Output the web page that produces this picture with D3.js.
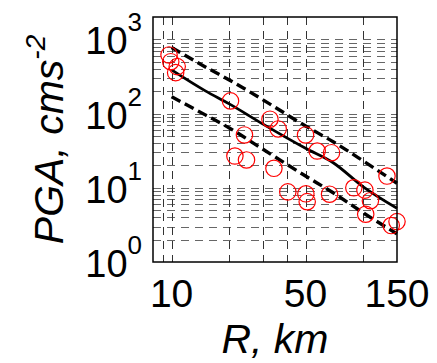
<!DOCTYPE html>
<html>
<head>
<meta charset="utf-8">
<script src="https://cdn.jsdelivr.net/npm/d3@7"></script>
<style>
  body { margin: 0; background: #fff; }
  text { font-family: "Liberation Sans", Arial, sans-serif; fill: #000; }
</style>
</head>
<body>
<svg id="drawing_region"></svg>
<script>
// observed records: distance (km) and PGA (cm/s^2)
const obs_R   = [9.7, 9.9, 10.7, 10.5, 20.3, 32.6, 36.0, 24.0, 50.0, 57.5, 68.3, 21.4, 24.6, 34.2, 133, 40.4, 50.2, 51.0, 66.7, 89.3, 102, 109, 103, 140, 150];
const obs_PGA = [616, 500, 429, 356, 148, 84, 62, 51.5, 51.5, 31.3, 29.7, 26.8, 23.7, 18.3, 14.4, 8.8, 8.3, 6.5, 8.2, 10.0, 9.3, 6.7, 4.4, 3.1, 3.5];

// prediction curves
const curve_R     = [10, 15, 20, 30, 50, 70, 100, 150];
const median_PGA  = [387, 202, 135, 72, 34, 21.6, 10.3, 5.3];
const upper_PGA   = [778, 425, 284, 153, 68, 41.4, 23, 11.5];
const lower_PGA   = [169, 96, 64, 33, 14.4, 8.5, 4.6, 2.4];

// axes
const x_grid   = [9, 10, 20, 30, 40, 50, 100];
const x_labels = [10, 50, 150];
const y_major  = [1, 10, 100, 1000];

var config = {
    parent: '#drawing_region',
    width: 437,
    height: 363,
    margin: { top: 17, right: 40, bottom: 101, left: 153 }
};

class LogPlot {
    constructor(config) {
        this.config = config;
        this.init();
    }

    init() {
        let self = this;
        self.svg = d3.select(self.config.parent)
            .attr('width', self.config.width)
            .attr('height', self.config.height);

        self.inner_width = self.config.width - self.config.margin.left - self.config.margin.right;
        self.inner_height = self.config.height - self.config.margin.top - self.config.margin.bottom;

        self.chart = self.svg.append('g')
            .attr('transform', `translate(${self.config.margin.left},${self.config.margin.top})`);

        self.xscale = d3.scaleLog().domain([8, 150]).range([0, self.inner_width]);
        self.yscale = d3.scaleLog().domain([1, 2000]).range([self.inner_height, 0]);
    }

    render() {
        let self = this;
        const W = self.inner_width, H = self.inner_height;

        // horizontal grid at every log tick 1..1000
        const y_grid = [];
        y_major.forEach(d => {
            for (let k = 1; k <= 9; k++) {
                const v = d * k;
                if (v > 1 && v <= 1000) y_grid.push(v);
            }
        });
        self.chart.append('g').selectAll('line').data(y_grid).join('line')
            .attr('x1', 0).attr('x2', W)
            .attr('y1', d => Math.round(self.yscale(d)) + 0.5)
            .attr('y2', d => Math.round(self.yscale(d)) + 0.5)
            .attr('stroke', '#666').attr('stroke-width', 1)
            .attr('stroke-dasharray', '8,6');

        self.chart.append('g').selectAll('line').data(x_grid).join('line')
            .attr('x1', d => Math.round(self.xscale(d)) + 0.5)
            .attr('x2', d => Math.round(self.xscale(d)) + 0.5)
            .attr('y1', 0).attr('y2', H)
            .attr('stroke', '#333').attr('stroke-width', 1)
            .attr('stroke-dasharray', '8,6');

        // curves
        const line = vals => d3.line()
            .x((d, i) => self.xscale(curve_R[i]))
            .y(d => self.yscale(d))
            .curve(d3.curveMonotoneX)(vals);

        self.chart.append('path').attr('d', line(median_PGA))
            .attr('fill', 'none').attr('stroke', '#000').attr('stroke-width', 2.8);
        [upper_PGA, lower_PGA].forEach(v => {
            self.chart.append('path').attr('d', line(v))
                .attr('fill', 'none').attr('stroke', '#000').attr('stroke-width', 3.4)
                .attr('stroke-dasharray', '10,5');
        });

        // observations
        self.chart.append('g').selectAll('circle').data(obs_R).join('circle')
            .attr('cx', d => self.xscale(d))
            .attr('cy', (d, i) => self.yscale(obs_PGA[i]))
            .attr('r', 8.2)
            .attr('fill', 'none').attr('stroke', '#ff0000').attr('stroke-width', 1.2);

        // frame
        self.chart.append('rect')
            .attr('x', 0).attr('y', 0).attr('width', W).attr('height', H)
            .attr('fill', 'none').attr('stroke', '#000').attr('stroke-width', 1.5);

        // y tick labels
        const ylab = self.chart.append('g').selectAll('text').data(y_major).join('text')
            .attr('x', -11)
            .attr('y', d => self.yscale(d) + 15)
            .attr('text-anchor', 'end')
            .style('font-size', '38px');
        ylab.append('tspan').text('10');
        ylab.append('tspan').attr('dy', -23).style('font-size', '26px')
            .text(d => Math.round(Math.log10(d)));

        // x tick labels
        self.chart.append('g').selectAll('text').data(x_labels).join('text')
            .attr('x', d => self.xscale(d))
            .attr('y', H + 45)
            .attr('text-anchor', 'middle')
            .style('font-size', '39px')
            .text(d => d);

        // axis titles
        self.svg.append('text')
            .attr('x', self.config.margin.left + W / 2)
            .attr('y', 353)
            .attr('text-anchor', 'middle')
            .style('font-size', '41px').style('font-style', 'italic')
            .text('R, km');

        const yt = self.svg.append('text')
            .attr('transform', `translate(63, ${self.config.margin.top + H / 2}) rotate(-90)`)
            .attr('text-anchor', 'middle')
            .style('font-size', '41px').style('font-style', 'italic');
        yt.append('tspan').text('PGA, cms');
        yt.append('tspan').attr('dy', -18).style('font-size', '28px').text('-2');
    }
}

const plot = new LogPlot(config);
plot.render();
</script>
</body>
</html>
